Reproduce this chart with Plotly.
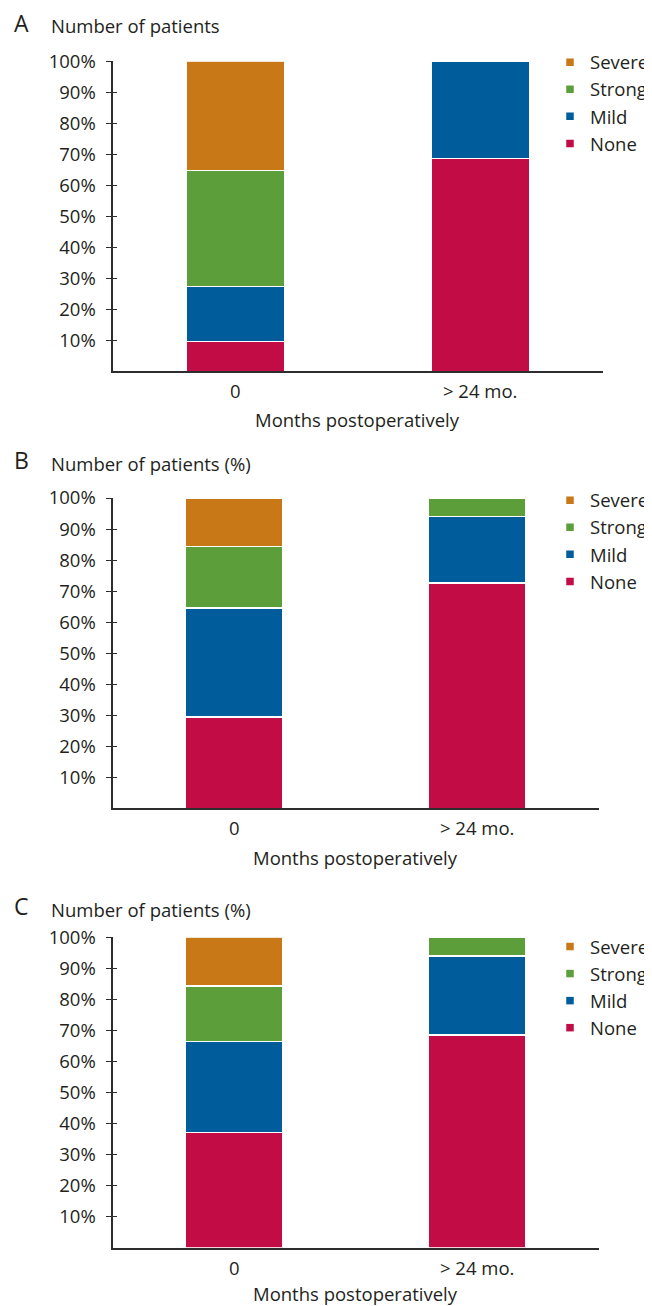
import plotly.graph_objects as go

# ---------------- data ----------------
categories = ["0", "> 24 mo."]
levels = ["None", "Mild", "Strong", "Severe"]
colors = {"None": "#C20C46", "Mild": "#005C9B", "Strong": "#5C9F3A", "Severe": "#C97818"}

panel_a = {"None": [9.7, 68.6], "Mild": [17.7, 31.4], "Strong": [37.3, 0.0], "Severe": [35.3, 0.0]}
panel_b = {"None": [29.4, 72.6], "Mild": [35.2, 21.5], "Strong": [19.7, 5.9], "Severe": [15.7, 0.0]}
panel_c = {"None": [37.2, 68.5], "Mild": [29.3, 25.5], "Strong": [17.8, 6.0], "Severe": [15.7, 0.0]}

tick_vals = [10, 20, 30, 40, 50, 60, 70, 80, 90, 100]
tick_text = ["10%", "20%", "30%", "40%", "50%", "60%", "70%", "80%", "90%", "100%"]

letters = ["A", "B", "C"]
y_titles = ["Number of patients", "Number of patients (%)", "Number of patients (%)"]
x_title = "Months postoperatively"

# ---------------- layout helpers ----------------
# the page body has an 8px default margin, so the figure is drawn 8px in from
# the window's top-left corner; positions below are in window pixels.
OFF = 8
W, H = 652 - OFF, 1306 - OFF
FONT = "Open Sans"
FS = 18.5
TXT = "#231F20"
AX = "#2E2C2D"


def px(x):
    return (x - OFF) / W


def py(y):
    return 1 - (y - OFF) / H


# pixel geometry of each panel: (x_left, x_right, y_bottom, y_top, legend_top, title_y, xlab_y)
geom = [
    (112.7, 602.7, 371.3, 61.3, 43.7, 26.0, 419.5),
    (112.7, 598.7, 808.3, 498.0, 481.7, 463.0, 857.0),
    (112.7, 598.7, 1247.7, 937.3, 928.0, 909.0, 1293.0),
]

fig = go.Figure()
layout = dict(
    width=W, height=H,
    margin=dict(l=0, r=0, t=0, b=0, autoexpand=False),
    paper_bgcolor="white", plot_bgcolor="white",
    font=dict(family=FONT, size=FS, color=TXT),
    barmode="stack", bargap=0.6,
    showlegend=True,
    annotations=[],
)

panels = [panel_a, panel_b, panel_c]
for i, data in enumerate(panels):
    n = i + 1
    xa = "x" if n == 1 else f"x{n}"
    ya = "y" if n == 1 else f"y{n}"
    ya_over = f"y{n + 3}"
    legend_name = "legend" if n == 1 else f"legend{n}"
    x0, x1, yb, yt, leg_top, title_y, xlab_y = geom[i]

    for lvl in levels:
        fig.add_trace(go.Bar(
            x=categories, y=data[lvl], name=lvl,
            marker=dict(color=colors[lvl], line=dict(color="white", width=1.4)),
            xaxis=xa, yaxis=ya, showlegend=False, hoverinfo="skip",
            legend=legend_name,
        ))
    # legend entries (small square swatches), also anchoring the overlay axis
    for lvl in reversed(levels):
        fig.add_trace(go.Scatter(
            x=[None], y=[None], name=lvl, mode="markers",
            marker=dict(symbol="square", size=7.5, color=colors[lvl]),
            xaxis=xa, yaxis=ya_over, legend=legend_name, hoverinfo="skip",
        ))

    layout["xaxis" if n == 1 else f"xaxis{n}"] = dict(
        domain=[px(x0), px(x1)], anchor=ya, type="category",
        categoryorder="array", categoryarray=categories, range=[-0.5, 1.5],
        showline=True, linecolor=AX, linewidth=1.5, ticks="",
        showgrid=False, zeroline=False, fixedrange=True, automargin=False,
        tickfont=dict(size=FS, color=TXT), ticklabelstandoff=3,
    )
    layout["yaxis" if n == 1 else f"yaxis{n}"] = dict(
        domain=[py(yb), py(yt)], anchor=xa, range=[0, 100],
        tickvals=tick_vals, ticktext=tick_text,
        showline=True, linecolor=AX, linewidth=1.5,
        ticks="outside", ticklen=4.5, tickwidth=1.3, tickcolor=AX,
        showgrid=False, zeroline=False, fixedrange=True, automargin=False,
        tickfont=dict(size=FS, color=TXT), ticklabelstandoff=7,
    )
    layout[f"yaxis{n + 3}"] = dict(
        overlaying=ya, anchor=xa, side="left", range=[0, 100],
        tickvals=tick_vals, showticklabels=False, showline=False,
        ticks="inside", ticklen=4.5, tickwidth=1.3, tickcolor=AX,
        showgrid=False, zeroline=False, fixedrange=True, automargin=False,
    )
    layout[legend_name] = dict(
        x=px(550), y=py(leg_top), xanchor="left", yanchor="top",
        bgcolor="rgba(0,0,0,0)", borderwidth=0, traceorder="normal",
        font=dict(size=FS, color=TXT, family=FONT),
        tracegroupgap=0, itemwidth=30,
    )
    layout["annotations"] += [
        dict(text=letters[i], x=px(12), y=py(title_y - 3), xref="paper", yref="paper",
             xanchor="left", yanchor="middle", showarrow=False,
             font=dict(size=23, color=TXT, family=FONT)),
        dict(text=y_titles[i], x=px(49), y=py(title_y), xref="paper", yref="paper",
             xanchor="left", yanchor="middle", showarrow=False,
             font=dict(size=FS, color=TXT, family=FONT)),
        dict(text=x_title, x=px((x0 + x1) / 2), y=py(xlab_y), xref="paper", yref="paper",
             xanchor="center", yanchor="middle", showarrow=False,
             font=dict(size=FS, color=TXT, family=FONT)),
    ]

fig.update_layout(**layout)
fig.write_html("out.html", config={"displayModeBar": False})
